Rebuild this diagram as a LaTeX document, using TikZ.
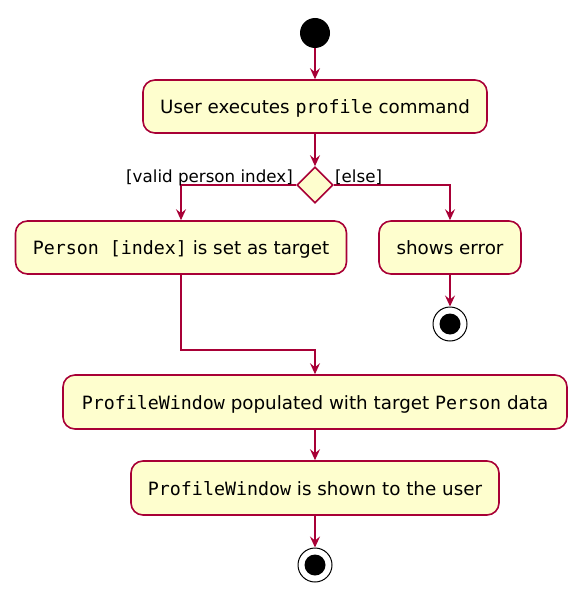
\documentclass[tikz,border=0pt]{standalone}
\usepackage{fontspec}
\setmainfont{DejaVu Sans}
\setmonofont{DejaVu Sans Mono}
\usetikzlibrary{arrows.meta,shapes.geometric}
\definecolor{uborder}{HTML}{A80036}
\definecolor{ufill}{HTML}{FEFECE}
\begin{document}
\begin{tikzpicture}[x=1pt,y=-1pt,
  act/.style={draw=uborder,fill=ufill,line width=1.6pt,rounded corners=12pt,inner sep=0pt,text depth=0pt,font=\fontsize{18.3}{21}\selectfont},
  flow/.style={draw=uborder,line width=1.6pt,-{Stealth[length=11pt,width=10pt,inset=4pt]}},
  lbl/.style={font=\fontsize{16.7}{19}\selectfont,inner sep=0pt},
  dec/.style={diamond,draw=uborder,fill=ufill,line width=1.6pt,minimum width=36pt,minimum height=36pt,inner sep=0pt}]
\useasboundingbox (0,0) rectangle (583,599);
\node[circle,fill=black,minimum size=30pt,inner sep=0pt] (start) at (315,33) {};
\node[act,minimum width=344pt,minimum height=53pt] (a1) at (315,106.5) {User executes {\ttfamily profile} command};
\node[dec] (d) at (315,185) {};
\node[act,minimum width=331pt,minimum height=53pt] (a2) at (181,247.5) {{\ttfamily Person [index]} is set as target};
\node[act,minimum width=142pt,minimum height=53pt] (a3) at (450,247.5) {shows error};
\node[circle,draw=black,fill=white,line width=1pt,minimum size=34pt,inner sep=0pt] (e1) at (450,324) {};
\fill[black] (e1.center) circle (10.5);
\node[act,minimum width=504pt,minimum height=54pt] (a4) at (315,402) {{\ttfamily ProfileWindow} populated with target {\ttfamily Person} data};
\node[act,minimum width=368pt,minimum height=54pt] (a5) at (315,488) {{\ttfamily ProfileWindow} is shown to the user};
\node[circle,draw=black,fill=white,line width=1pt,minimum size=34pt,inner sep=0pt] (e2) at (315,565) {};
\fill[black] (e2.center) circle (10.5);
\coordinate (m) at (181,350);
\draw[flow] (start) -- (a1);
\draw[flow] (a1) -- (d);
\draw[flow] (d.west) -| (a2.north);
\draw[flow] (d.east) -| (a3.north);
\draw[flow] (a3) -- (e1);
\draw[flow] (a2.south) -- (m) -| (a4.north);
\draw[flow] (a4) -- (a5);
\draw[flow] (a5) -- (e2);
\node[lbl,anchor=base east] at (293,182) {[valid person index]};
\node[lbl,anchor=base west] at (335,182) {[else]};
\end{tikzpicture}
\end{document}
